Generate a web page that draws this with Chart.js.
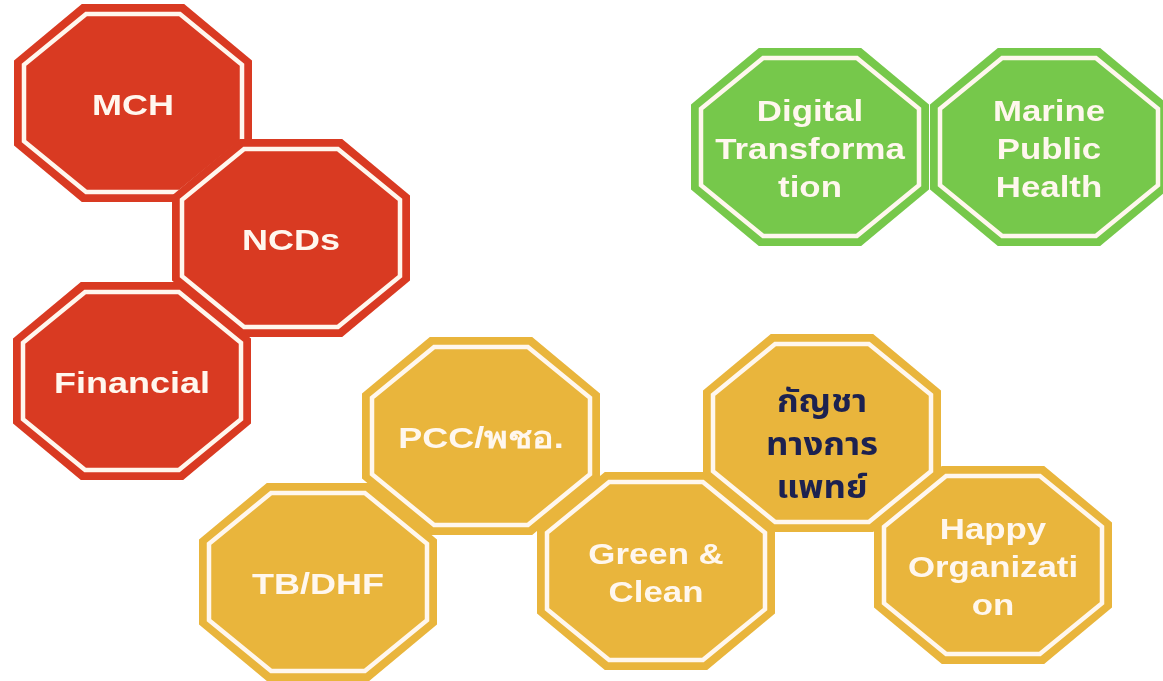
<!DOCTYPE html>
<html>
<head>
<meta charset="utf-8">
<title>Octagons</title>
<script src="https://cdn.jsdelivr.net/npm/chart.js@4.4.1/dist/chart.umd.min.js"></script>
<style>
  html, body { margin:0; padding:0; background:#fff; }
  #wrap { width:1163px; height:681px; }
</style>
</head>
<body>
<div id="wrap"><canvas id="hexChart" width="1163" height="681"></canvas></div>
<script>
// items, drawn in this order (later ones sit on top)
const items   = ['MCH', 'Financial', 'NCDs', 'Digital Transformation', 'Marine Public Health',
                 'TB/DHF', 'PCC/พชอ.', 'Happy Organization', 'กัญชาทางการแพทย์', 'Green & Clean'];
const lines   = [['MCH'], ['Financial'], ['NCDs'], ['Digital', 'Transforma', 'tion'], ['Marine', 'Public', 'Health'],
                 ['TB/DHF'], ['PCC/พชอ.'], ['Happy', 'Organizati', 'on'], ['กัญชา', 'ทางการ', 'แพทย์'], ['Green &', 'Clean']];
const groups  = ['red', 'red', 'red', 'green', 'green',
                 'yellow', 'yellow', 'yellow', 'yellow', 'yellow'];
const centerX = [133, 132, 291, 810, 1049, 318, 481, 993, 822, 656];
const centerY = [103, 381, 238, 147, 147, 582, 436, 565, 433, 571];

const groupNames = ['red', 'green', 'yellow'];
const fillColor = { red:'#d93a22', green:'#76c84b', yellow:'#e9b53c' };
const ringColor = '#fff7ee';
const HALF_W = 119, HALF_H = 99, CUT = 0.57;
const STRETCH = 1.2;   // the source picture is squashed wide, text too

function octPath(ctx, x, y, a, b){
  const ca = a*CUT, cb = b*CUT;
  ctx.beginPath();
  ctx.moveTo(x-a+ca, y-b); ctx.lineTo(x+a-ca, y-b);
  ctx.lineTo(x+a, y-b+cb); ctx.lineTo(x+a, y+b-cb);
  ctx.lineTo(x+a-ca, y+b); ctx.lineTo(x-a+ca, y+b);
  ctx.lineTo(x-a, y+b-cb); ctx.lineTo(x-a, y-b+cb);
  ctx.closePath();
}

const octagons = {
  id: 'octagons',
  afterDatasetsDraw(chart){
    const ctx = chart.ctx, xs = chart.scales.x, ys = chart.scales.y;
    const a = Math.abs(xs.getPixelForValue(HALF_W) - xs.getPixelForValue(0));
    const b = Math.abs(ys.getPixelForValue(HALF_H) - ys.getPixelForValue(0));
    // draw in item order so overlaps stack like the original
    const order = [];
    chart.data.datasets.forEach((ds, di) => {
      chart.getDatasetMeta(di).data.forEach((pt, i) => order.push({pt, raw: ds.data[i], group: ds.label}));
    });
    order.sort((p, q) => p.raw.idx - q.raw.idx);
    order.forEach(({pt, raw, group}) => {
      ctx.save();
      octPath(ctx, pt.x, pt.y, a, b);
      ctx.fillStyle = fillColor[group];
      ctx.fill();
      octPath(ctx, pt.x, pt.y, a-10, b-10);
      ctx.strokeStyle = ringColor;
      ctx.lineWidth = 4.5;
      ctx.stroke();

      const thai = /^[\u0E00-\u0E7F]/.test(raw.lines[0]);
      const n = raw.lines.length;
      let lh = 38, dy = 4;
      if (thai) {
        ctx.fillStyle = '#1c2150';
        ctx.font = 'bold 31px "Noto Sans Thai", "Noto Sans", sans-serif';
        lh = 43; dy = 16;
      } else {
        ctx.fillStyle = ringColor;
        ctx.font = (n > 1 ? 'bold 29px' : 'bold 30px') + ' "Liberation Sans", Arial, sans-serif';
      }
      ctx.textAlign = 'center';
      ctx.textBaseline = 'middle';
      ctx.translate(pt.x, pt.y + dy);
      ctx.scale(thai ? 1.12 : STRETCH, 1);
      raw.lines.forEach((t, k) => ctx.fillText(t, 0, (k - (n-1)/2)*lh));
      ctx.restore();
    });
  }
};

const datasets = groupNames.map(g => ({
  label: g,
  data: items.map((name, i) => ({x: centerX[i], y: centerY[i], idx: i, name, lines: lines[i]}))
             .filter((d, i) => groups[i] === g),
  pointRadius: 0,
  showLine: false
}));

new Chart(document.getElementById('hexChart'), {
  type: 'scatter',
  data: { datasets },
  options: {
    responsive: false,
    animation: false,
    layout: { padding: 0 },
    plugins: { legend: { display:false }, tooltip: { enabled:false } },
    scales: {
      x: { type:'linear', min:0, max:1163, display:false },
      y: { type:'linear', min:0, max:681, reverse:true, display:false }
    }
  },
  plugins: [octagons]
});
</script>
</body>
</html>
